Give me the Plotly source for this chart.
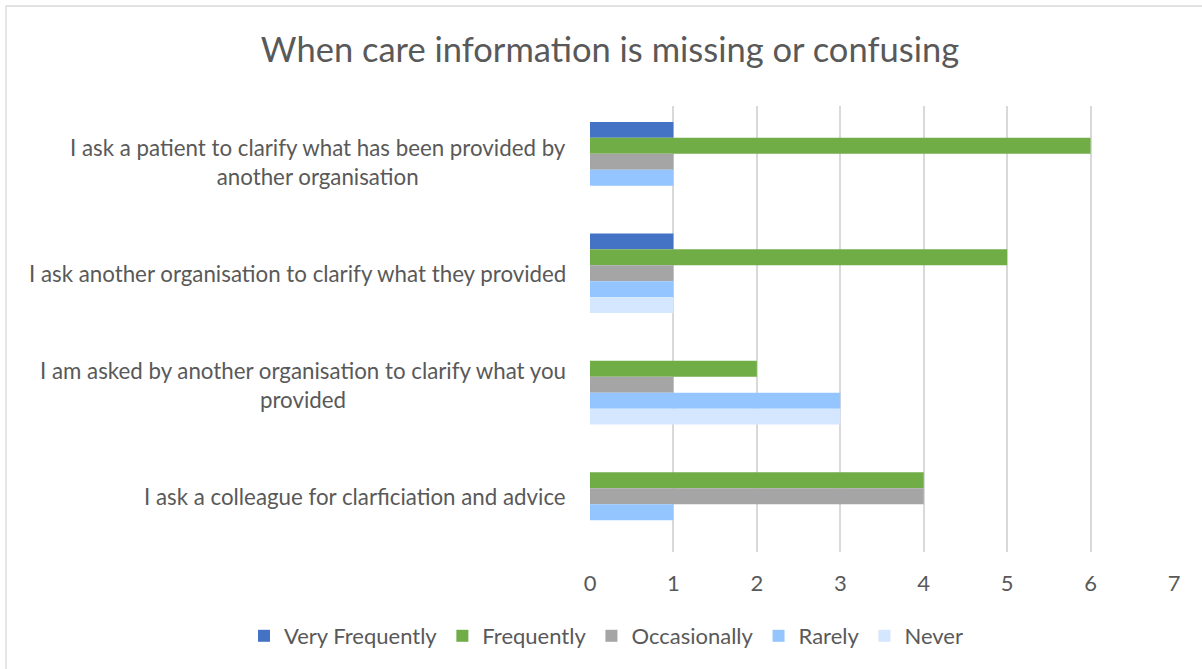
import plotly.graph_objects as go

categories = [
    "I ask a patient to clarify what has been provided by<br>another organisation",
    "I ask another organisation to clarify what they provided",
    "I am asked by another organisation to clarify what you<br>provided",
    "I ask a colleague for clarficiation and advice",
]
cat_keys = ["c1", "c2", "c3", "c4"]
series_names = ["Very Frequently", "Frequently", "Occasionally", "Rarely", "Never"]
very_frequently = [1, 1, 0, 0]
frequently = [6, 5, 2, 4]
occasionally = [1, 1, 1, 4]
rarely = [1, 1, 3, 1]
never = [0, 1, 3, 0]
colors = ["#4472C4", "#70AD47", "#A5A5A5", "#94C5FF", "#D5E7FF"]
x_ticks = [0, 1, 2, 3, 4, 5, 6, 7]

FONT = "Lato, Carlito, Calibri, sans-serif"
TXT = "#595959"
W, H = 1202, 669
PL, PR, PT, PB = 590, 1174, 106, 552  # plot area in pixels

fig = go.Figure()
for name, vals, col in zip(series_names,
                           [very_frequently, frequently, occasionally, rarely, never],
                           colors):
    fig.add_trace(go.Bar(
        y=cat_keys, x=vals, name=name, orientation="h",
        marker=dict(color=col, line=dict(width=0)),
    ))

for key, label in zip(cat_keys, categories):
    fig.add_annotation(
        x=0, xref="paper", y=key, yref="y", text=label, showarrow=False,
        xanchor="right", yanchor="middle", align="center", xshift=-22,
        font=dict(family=FONT, size=22.3, color=TXT),
    )

# chart frame
fig.add_shape(type="rect", xref="paper", yref="paper",
              x0=(6 - PL) / (PR - PL), x1=(W + 10 - PL) / (PR - PL),
              y0=(PB - H - 10) / (PB - PT), y1=(PB - 6) / (PB - PT),
              line=dict(color="#D9D9D9", width=1.3), fillcolor="rgba(0,0,0,0)",
              layer="below")

fig.update_layout(
    width=W, height=H,
    paper_bgcolor="white", plot_bgcolor="white",
    margin=dict(l=PL, r=W - PR, t=PT, b=H - PB),
    barmode="group", bargap=0.286, bargroupgap=0,
    title=dict(text="When care information is missing or confusing",
               x=610 / W, xref="container", xanchor="center",
               y=1 - 50 / H, yref="container", yanchor="middle",
               font=dict(family=FONT, size=34.5, color=TXT)),
    legend=dict(orientation="h", x=(244 - PL) / (PR - PL), xanchor="left", xref="paper",
                y=(PB - 636) / (PB - PT), yref="paper", yanchor="middle",
                font=dict(family=FONT, size=22, color=TXT),
                traceorder="normal", itemwidth=30),
    xaxis=dict(range=[0, 7], tickvals=x_ticks, showgrid=True, gridcolor="#D9D9D9",
               gridwidth=1.5, zeroline=False, showline=False,
               tickfont=dict(family=FONT, size=22, color=TXT), ticks="",
               ticklabelstandoff=16),
    yaxis=dict(categoryorder="array", categoryarray=cat_keys, autorange="reversed",
               showticklabels=False, showgrid=False, zeroline=False, showline=False),
    showlegend=True,
)

fig.write_html("out.html", post_script="document.body.style.margin='0';",
               config={"displayModeBar": False})
